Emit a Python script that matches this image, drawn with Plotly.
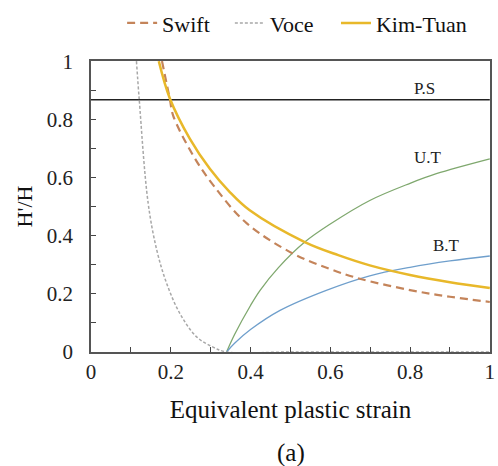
import plotly.graph_objects as go

# ---- data ----
swift_x = [0.178, 0.198, 0.206, 0.256, 0.307, 0.39, 0.507, 0.60, 0.674, 0.80, 0.90, 1.0]
swift_y = [1.0, 0.867, 0.813, 0.676, 0.573, 0.443, 0.338, 0.285, 0.252, 0.213, 0.19, 0.172]

voce_x = [0.114, 0.121, 0.143, 0.165, 0.19, 0.223, 0.265, 0.306, 0.34, 0.5, 0.75, 1.0]
voce_y = [1.0, 0.867, 0.515, 0.35, 0.235, 0.132, 0.052, 0.017, 0.0, 0.0, 0.0, 0.0]

kim_x = [0.17, 0.198, 0.248, 0.298, 0.348, 0.398, 0.536, 0.62, 0.699, 0.80, 0.90, 1.0]
kim_y = [1.0, 0.871, 0.733, 0.63, 0.55, 0.487, 0.378, 0.333, 0.298, 0.265, 0.24, 0.22]

ut_x = [0.34, 0.36, 0.40, 0.424, 0.47, 0.536, 0.60, 0.699, 0.80, 0.866, 1.0]
ut_y = [0.0, 0.06, 0.16, 0.212, 0.29, 0.378, 0.44, 0.521, 0.58, 0.613, 0.664]

bt_x = [0.34, 0.36, 0.40, 0.474, 0.59, 0.699, 0.80, 0.90, 1.0]
bt_y = [0.0, 0.03, 0.077, 0.143, 0.212, 0.262, 0.291, 0.313, 0.33]

ps_x = [0.0, 1.0]
ps_level = [0.867, 0.867]

tick_vals = [0, 0.2, 0.4, 0.6, 0.8, 1]
tick_text = ["0", "0.2", "0.4", "0.6", "0.8", "1"]

label_text = ["P.S", "U.T", "B.T"]
label_x = [0.837, 0.845, 0.891]
label_y = [0.906, 0.67, 0.367]

FONT = "Liberation Serif, Times New Roman, serif"

fig = go.Figure()
fig.add_trace(go.Scatter(x=ps_x, y=ps_level, mode="lines", showlegend=False,
                         line=dict(color="#222222", width=1.5)))
fig.add_trace(go.Scatter(x=ut_x, y=ut_y, mode="lines", showlegend=False, line_shape="spline",
                         line=dict(color="#7fa86e", width=1.3)))
fig.add_trace(go.Scatter(x=bt_x, y=bt_y, mode="lines", showlegend=False, line_shape="spline",
                         line=dict(color="#6f9fcc", width=1.3)))
fig.add_trace(go.Scatter(x=swift_x, y=swift_y, mode="lines", name="Swift", line_shape="spline",
                         legend="legend",
                         line=dict(color="#c4845a", width=2.2, dash="8px,5px")))
fig.add_trace(go.Scatter(x=voce_x, y=voce_y, mode="lines", name="Voce", line_shape="spline",
                         legend="legend2",
                         line=dict(color="#a8a8a8", width=1.5, dash="3px,2px")))
fig.add_trace(go.Scatter(x=kim_x, y=kim_y, mode="lines", name="Kim-Tuan", line_shape="spline",
                         legend="legend3",
                         line=dict(color="#e8b82a", width=2.5)))

for t, x, y in zip(label_text, label_x, label_y):
    fig.add_annotation(x=x, y=y, text=t, showarrow=False, xref="x", yref="y",
                       font=dict(family=FONT, size=17, color="#222222"))

fig.add_annotation(x=0.5, y=-0.348, xref="paper", yref="paper", yanchor="middle",
                   text="(a)", showarrow=False,
                   font=dict(family=FONT, size=25, color="#111111"))

axis_common = dict(
    range=[0, 1.0005], showgrid=False, zeroline=False, showline=True, linecolor="#555555",
    linewidth=1.5, mirror=True, ticks="inside", ticklen=5, tickcolor="#444444",
    tickmode="array", tickvals=tick_vals, ticktext=tick_text,
    tickfont=dict(family=FONT, size=21, color="#222222"),
    minor=dict(ticks="inside", tickmode="linear", tick0=0, dtick=0.1, ticklen=5,
               tickcolor="#444444"),
)

fig.update_xaxes(**axis_common,
                 title=dict(text="Equivalent plastic strain", standoff=18,
                            font=dict(family=FONT, size=25, color="#111111")))
fig.update_yaxes(**axis_common, ticklabelstandoff=12,
                 title=dict(text="H'/H", standoff=8,
                            font=dict(family=FONT, size=22, color="#111111")))

leg_common = dict(orientation="h", xanchor="left", y=1.13, yanchor="middle",
                  font=dict(family=FONT, size=22, color="#111111"),
                  itemwidth=30, bgcolor="rgba(0,0,0,0)")

fig.update_layout(
    width=498, height=466,
    margin=dict(l=91, r=8, t=61, b=114, autoexpand=False),
    paper_bgcolor="white", plot_bgcolor="white",
    legend=dict(x=0.078, **leg_common),
    legend2=dict(x=0.348, **leg_common),
    legend3=dict(x=0.614, **leg_common),
)

fig.write_html("out.html", config={"displayModeBar": False},
               post_script="document.body.style.margin='0';")
